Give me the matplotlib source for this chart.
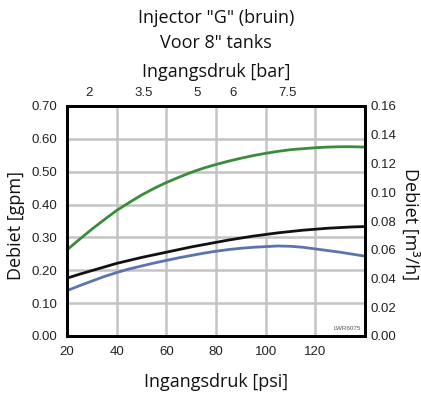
import matplotlib
matplotlib.use("Agg")
import matplotlib.pyplot as plt

psi = [20, 25, 30, 35, 40, 45, 50, 55, 60, 65, 70, 75, 80, 85, 90, 95, 100, 105, 110, 115, 120, 125, 130, 135, 140]
green = [0.262, 0.294, 0.325, 0.354, 0.382, 0.406, 0.429, 0.449, 0.467, 0.483, 0.498, 0.511, 0.522,
         0.532, 0.541, 0.549, 0.556, 0.562, 0.567, 0.570, 0.573, 0.575, 0.576, 0.576, 0.575]
black = [0.176, 0.188, 0.199, 0.210, 0.221, 0.230, 0.239, 0.247, 0.255, 0.263, 0.271, 0.278, 0.285,
         0.292, 0.298, 0.304, 0.309, 0.314, 0.318, 0.322, 0.325, 0.328, 0.330, 0.332, 0.333]
blue = [0.138, 0.153, 0.167, 0.181, 0.193, 0.204, 0.213, 0.222, 0.230, 0.238, 0.245, 0.252, 0.258,
        0.263, 0.267, 0.270, 0.272, 0.274, 0.273, 0.270, 0.265, 0.260, 0.255, 0.249, 0.243]

x_ticks = [20, 40, 60, 80, 100, 120]
bar_ticks = [2, 3.5, 5, 6, 7.5]
bar_labels = ["2", "3.5", "5", "6", "7.5"]
gpm_ticks = [0.0, 0.1, 0.2, 0.3, 0.4, 0.5, 0.6, 0.7]
m3h_ticks = [0.0, 0.02, 0.04, 0.06, 0.08, 0.10, 0.12, 0.14, 0.16]

title1 = 'Injector "G" (bruin)'
title2 = 'Voor 8" tanks'
top_label = "Ingangsdruk [bar]"
x_label = "Ingangsdruk [psi]"
yl_label = "Debiet [gpm]"
yr_label = "Debiet [m³/h]"

label_font = "Open Sans"
tick_font = "Liberation Sans"
lab_kw = dict(fontsize=13, fontfamily=label_font, color="#111111")
tick_kw = dict(fontfamily=tick_font, fontsize=9.5, color="#222222")

fig = plt.figure(figsize=(4.21, 3.93), dpi=100)
ax = fig.add_axes([67/421, 1-336/393, (365-67)/421, (336-106)/393])

ax.plot(psi, green, color="#3a8c3c", lw=2.0, zorder=3)
ax.plot(psi, black, color="#111111", lw=2.0, zorder=3)
ax.plot(psi, blue, color="#5b74ad", lw=2.0, zorder=3)

ax.set_xlim(20, 140)
ax.set_ylim(0, 0.7)
ax.set_xticks(x_ticks)
ax.set_xticklabels([str(v) for v in x_ticks], **tick_kw)
ax.set_yticks(gpm_ticks)
ax.set_yticklabels([f"{v:.2f}" for v in gpm_ticks], **tick_kw)
ax.tick_params(axis="both", length=0)
ax.tick_params(axis="x", pad=7)
ax.tick_params(axis="y", pad=7)
ax.grid(True, color="#c4c4c4", lw=1.8, zorder=0)
for s in ax.spines.values():
    s.set_linewidth(2.0)
    s.set_color("black")
    s.set_zorder(4)

ax2 = ax.twinx()
ax2.set_ylim(0, 0.16)
ax2.set_yticks(m3h_ticks)
ax2.set_yticklabels([f"{v:.2f}" for v in m3h_ticks], **tick_kw)
ax2.tick_params(axis="y", length=0, pad=4)
for s in ax2.spines.values():
    s.set_linewidth(2.0)

secax = ax.secondary_xaxis("top", functions=(lambda p: p / 14.5038, lambda b: b * 14.5038))
secax.set_xticks(bar_ticks)
secax.set_xticklabels(bar_labels, **tick_kw)
secax.tick_params(length=0, pad=5)
secax.spines["top"].set_linewidth(2.0)

ax.text(0.985, 0.02, "LWR6075", transform=ax.transAxes, ha="right", va="bottom",
        fontsize=4.5, color="#555555", fontfamily=tick_font, zorder=5)

fig.text(216/421, 1-18/393, title1, ha="center", va="center", **lab_kw)
fig.text(216/421, 1-43/393, title2, ha="center", va="center", **lab_kw)
fig.text(216/421, 1-72/393, top_label, ha="center", va="center", **lab_kw)
fig.text(216/421, 1-382/393, x_label, ha="center", va="center", **lab_kw)
fig.text(16/421, 1-226/393, yl_label, ha="center", va="center", rotation=90, **lab_kw)
fig.text(410/421, 1-224/393, yr_label, ha="center", va="center", rotation=-90, **lab_kw)

fig.savefig("out.png", dpi=100)
